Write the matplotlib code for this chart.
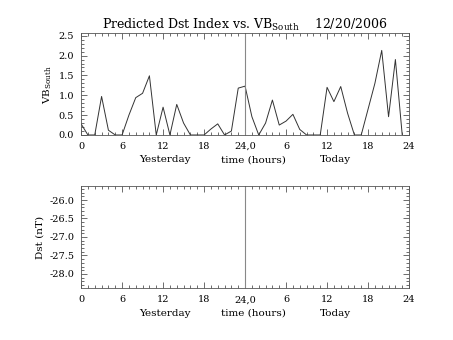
import numpy as np
import matplotlib
matplotlib.use('Agg')
import matplotlib.pyplot as plt
from matplotlib.ticker import MultipleLocator, FixedLocator

plt.rcParams['font.family'] = ['DejaVu Serif']
plt.rcParams['mathtext.fontset'] = 'dejavuserif'

## hourly VB_south, yesterday 0h .. today 23h
hours = list(range(48))
vb_south = [0.28, 0.0, 0.0, 0.97, 0.12, 0.0, 0.0, 0.5, 0.94, 1.05,
            1.49, 0.0, 0.7, 0.0, 0.77, 0.3, 0.0, 0.0, 0.0, 0.15,
            0.28, 0.0, 0.1, 1.18, 1.23, 0.46, 0.0, 0.3, 0.88, 0.25,
            0.35, 0.52, 0.14, 0.0, 0.0, 0.0, 1.2, 0.84, 1.22, 0.55,
            0.0, 0.0, 0.65, 1.3, 2.13, 0.46, 1.9, 0.0]
tick_hours = [0, 6, 12, 18, 24, 30, 36, 42, 48]
tick_labels = ['0', '6', '12', '18', '24,0', '6', '12', '18', '24']
day_labels = ['Yesterday', 'time (hours)', 'Today']
day_pos = [12.3, 25.2, 37.2]
title = r'Predicted Dst Index vs. VB$_{\mathrm{South}}$    12/20/2006'

fig = plt.figure(figsize=(4.53, 3.4), dpi=100)
ax1 = fig.add_axes([0.179, 0.603, 0.724, 0.299])
ax2 = fig.add_axes([0.179, 0.152, 0.724, 0.301])


def style(ax):
    ax.set_xlim(0, 48)
    ax.xaxis.set_major_locator(FixedLocator(tick_hours))
    ax.set_xticklabels(tick_labels)
    ax.xaxis.set_minor_locator(MultipleLocator(1))
    ax.tick_params(which='both', direction='in', top=True, right=True,
                   labelsize=7, color='#555555', width=0.6, pad=5)
    ax.tick_params(which='major', length=4)
    ax.tick_params(which='minor', length=2)
    for s in ax.spines.values():
        s.set_linewidth(0.6)
        s.set_color('#555555')
    ax.axvline(24, color='#888888', lw=0.8)
    for lab, p in zip(day_labels, day_pos):
        ax.text(p, -0.2, lab, transform=ax.get_xaxis_transform(),
                ha='center', va='top', fontsize=7.5)


ax1.plot(hours, vb_south, color='#333333', lw=0.7)
ax1.set_ylim(0, 2.56)
ax1.yaxis.set_major_locator(MultipleLocator(0.5))
ax1.yaxis.set_minor_locator(MultipleLocator(0.1))
ax1.yaxis.set_major_formatter(lambda v, p: '%.1f' % v)
style(ax1)
ax1.set_ylabel(r'VB$_{\mathrm{South}}$', fontsize=7.5, labelpad=3)
ax1.set_title(title, fontsize=9, pad=3)

ax2.set_ylim(-28.39, -25.62)
ax2.yaxis.set_major_locator(MultipleLocator(0.5))
ax2.yaxis.set_minor_locator(MultipleLocator(0.1))
ax2.yaxis.set_major_formatter(lambda v, p: '%.1f' % v)
style(ax2)
ax2.set_ylabel('Dst (nT)', fontsize=7.5, labelpad=3)

plt.savefig('out.png', dpi=100)
